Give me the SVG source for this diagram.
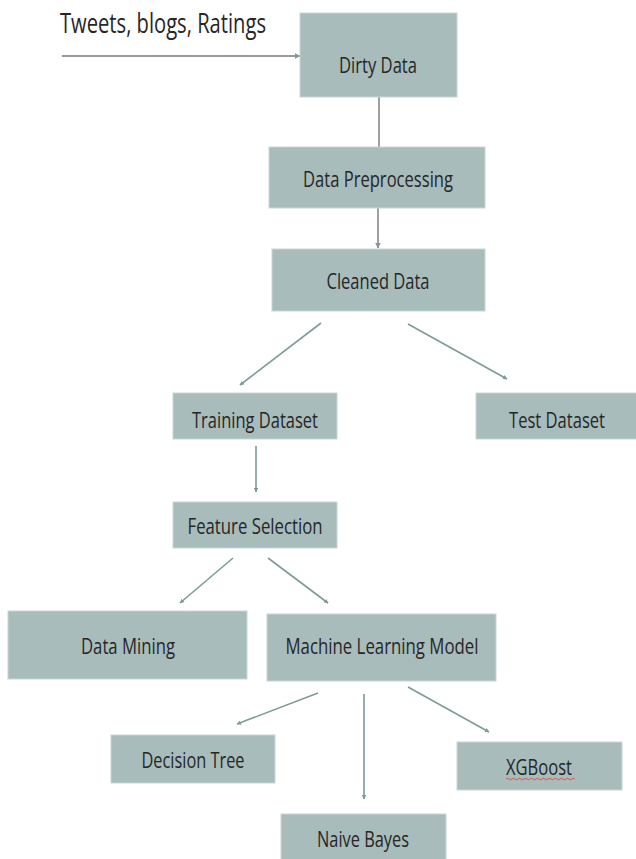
<svg xmlns="http://www.w3.org/2000/svg" width="636" height="859" viewBox="0 0 636 859">
<style>
.box{fill:#a8bcbc;stroke:#c9d6d6;stroke-width:1}
.lbl{font-family:"Open Sans","Liberation Sans",sans-serif;font-size:22px;fill:#262626;text-anchor:middle}
.con{stroke:#7f9a9a;stroke-width:1.6;fill:none}
</style>
<defs>
<marker id="ah" viewBox="0 0 10 10" refX="9" refY="5" markerWidth="4.5" markerHeight="4.5" orient="auto" markerUnits="userSpaceOnUse">
<path d="M0,0 L10,5 L0,10 z" fill="#7f9a9a"/>
</marker>
<marker id="ahb" viewBox="0 0 10 10" refX="9" refY="5" markerWidth="6" markerHeight="6" orient="auto" markerUnits="userSpaceOnUse">
<path d="M0,0 L10,5 L0,10 z" fill="#7f9a9a"/>
</marker>
</defs>
<text x="60" y="33" font-family="'Open Sans','Liberation Sans',sans-serif" font-size="27" fill="#262626" textLength="206" lengthAdjust="spacingAndGlyphs">Tweets, blogs, Ratings</text>
<g id="connectors">
<line class="con" x1="62" y1="56" x2="300" y2="56" marker-end="url(#ahb)" style="stroke:#777"/>
<line class="con" x1="379" y1="97" x2="379" y2="147" style="stroke:#888"/>
<line class="con" x1="378" y1="208" x2="378" y2="248" marker-end="url(#ahb)" style="stroke:#888"/>
<line class="con" x1="321" y1="323" x2="240" y2="385" marker-end="url(#ah)"/>
<line class="con" x1="408" y1="324" x2="507" y2="379" marker-end="url(#ah)"/>
<line class="con" x1="256" y1="446" x2="256" y2="492" marker-end="url(#ah)"/>
<line class="con" x1="233" y1="558" x2="180" y2="603" marker-end="url(#ah)"/>
<line class="con" x1="268" y1="558" x2="328" y2="603" marker-end="url(#ah)"/>
<line class="con" x1="318" y1="693" x2="237" y2="724" marker-end="url(#ah)"/>
<line class="con" x1="364" y1="694" x2="364" y2="799" marker-end="url(#ah)"/>
<line class="con" x1="408" y1="687" x2="489" y2="732" marker-end="url(#ah)"/>
</g>
<g id="dirty"><rect class="box" x="300" y="13" width="157" height="84"/><text class="lbl" x="378" y="73" textLength="78" lengthAdjust="spacingAndGlyphs">Dirty Data</text></g>
<g id="preproc"><rect class="box" x="269" y="147" width="216" height="61"/><text class="lbl" x="378" y="187" textLength="150" lengthAdjust="spacingAndGlyphs">Data Preprocessing</text></g>
<g id="cleaned"><rect class="box" x="272" y="249" width="213" height="62"/><text class="lbl" x="378" y="289" textLength="103" lengthAdjust="spacingAndGlyphs">Cleaned Data</text></g>
<g id="training"><rect class="box" x="173" y="393" width="164" height="46"/><text class="lbl" x="255" y="428" textLength="126" lengthAdjust="spacingAndGlyphs">Training Dataset</text></g>
<g id="test"><rect class="box" x="476" y="393" width="161" height="46"/><text class="lbl" x="557" y="428" textLength="96" lengthAdjust="spacingAndGlyphs">Test Dataset</text></g>
<g id="feature"><rect class="box" x="173" y="502" width="164" height="46"/><text class="lbl" x="255" y="534" textLength="135" lengthAdjust="spacingAndGlyphs">Feature Selection</text></g>
<g id="mining"><rect class="box" x="8" y="611" width="239" height="68"/><text class="lbl" x="128" y="654" textLength="94" lengthAdjust="spacingAndGlyphs">Data Mining</text></g>
<g id="ml"><rect class="box" x="267" y="614" width="229" height="67"/><text class="lbl" x="382" y="654" textLength="193" lengthAdjust="spacingAndGlyphs">Machine Learning Model</text></g>
<g id="dtree"><rect class="box" x="111" y="735" width="164" height="48"/><text class="lbl" x="193" y="768" textLength="103" lengthAdjust="spacingAndGlyphs">Decision Tree</text></g>
<g id="xgb"><rect class="box" x="457" y="742" width="165" height="48"/><text class="lbl" x="539" y="775" textLength="66" lengthAdjust="spacingAndGlyphs">XGBoost</text>
<path d="M506,779 q1.5,-1.5 3,0 t3,0 t3,0 t3,0 t3,0 t3,0 t3,0 t3,0 t3,0 t3,0 t3,0 t3,0 t3,0 t3,0 t3,0 t3,0 t3,0 t3,0 t3,0 t3,0 t3,0 t3,0 t3,0" fill="none" stroke="#d04040" stroke-width="0.8"/></g>
<g id="naive"><rect class="box" x="281" y="814" width="165" height="46"/><text class="lbl" x="363" y="847" textLength="92" lengthAdjust="spacingAndGlyphs">Naive Bayes</text></g>
</svg>
